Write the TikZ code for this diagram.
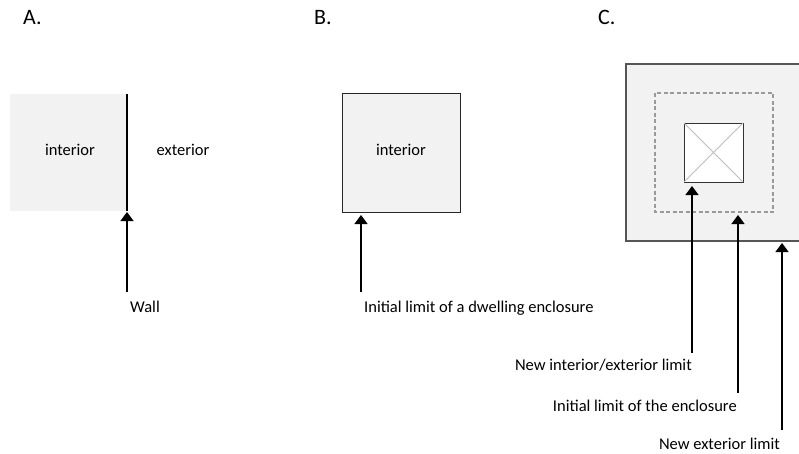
\documentclass[tikz,border=0pt]{standalone}
\usepackage{fontspec}
\setmainfont{Carlito}
\usetikzlibrary{arrows.meta}
\definecolor{roomfill}{HTML}{F2F2F2}
\definecolor{dashgray}{HTML}{9A9A9A}
\definecolor{diaggray}{HTML}{BDBDBD}
\definecolor{framegray}{HTML}{555555}
\tikzset{
  txt/.style={inner sep=0pt, font=\fontsize{16.5}{19}\selectfont},
  ttl/.style={inner sep=0pt, font=\fontsize{22}{26}\selectfont},
  ptr/.style={line width=1.3pt, -{Triangle[width=13pt,length=9pt]}},
  roombox/.style={draw=black!85, line width=1pt, fill=roomfill},
}
\begin{document}
\begin{tikzpicture}[x=1pt,y=-1pt]
\useasboundingbox (0,0) rectangle (799,453);
% titles
\node[ttl, anchor=base west] (tA) at (23,24) {A.};
\node[ttl, anchor=base west] (tB) at (314,24) {B.};
\node[ttl, anchor=base west] (tC) at (598,24) {C.};
% ---- A
\fill[roomfill] (10,94) rectangle (127,211);
\draw[line width=1.5pt] (127,94) -- (127,211);
\node[txt, anchor=base] (intA) at (70,155) {interior};
\node[txt, anchor=base] (extA) at (183,155) {exterior};
\coordinate (aT) at (127,212);
\coordinate (aB) at (127,292);
\draw[ptr] (aB) -- (aT);
\node[txt, anchor=base west] (wall) at (130,312) {Wall};
% ---- B
\draw[roombox] (342,93) rectangle (460,212);
\node[txt, anchor=base] (intB) at (401,155) {interior};
\coordinate (bT) at (361,215);
\coordinate (bB) at (361,292);
\draw[ptr] (bB) -- (bT);
\node[txt, anchor=base west] (initB) at (364,312) {Initial limit of a dwelling enclosure};
% ---- C
\fill[roomfill] (626,64) rectangle (799,241);
\draw[framegray, line width=1.5pt] (800,64) -- (626,64) -- (626,241) -- (800,241);
\draw[dashgray, line width=1.2pt, dash pattern=on 4pt off 2.5pt] (655,93) rectangle (773,212);
\draw[fill=white, draw=black!80, line width=1pt] (684,123) rectangle (743,182);
\draw[diaggray, line width=0.8pt] (684,123) -- (743,182) (743,123) -- (684,182);
\coordinate (c1T) at (692,186);
\coordinate (c1B) at (692,353);
\coordinate (c2T) at (738,215);
\coordinate (c2B) at (738,393);
\coordinate (c3T) at (782,243);
\coordinate (c3B) at (782,430);
\draw[ptr] (c1B) -- (c1T);
\draw[ptr] (c2B) -- (c2T);
\draw[ptr] (c3B) -- (c3T);
\node[txt, anchor=base east] (l1) at (692,370) {New interior/exterior limit};
\node[txt, anchor=base east] (l2) at (737,411) {Initial limit of the enclosure};
\node[txt, anchor=base east] (l3) at (780,449) {New exterior limit};
\end{tikzpicture}
\end{document}
